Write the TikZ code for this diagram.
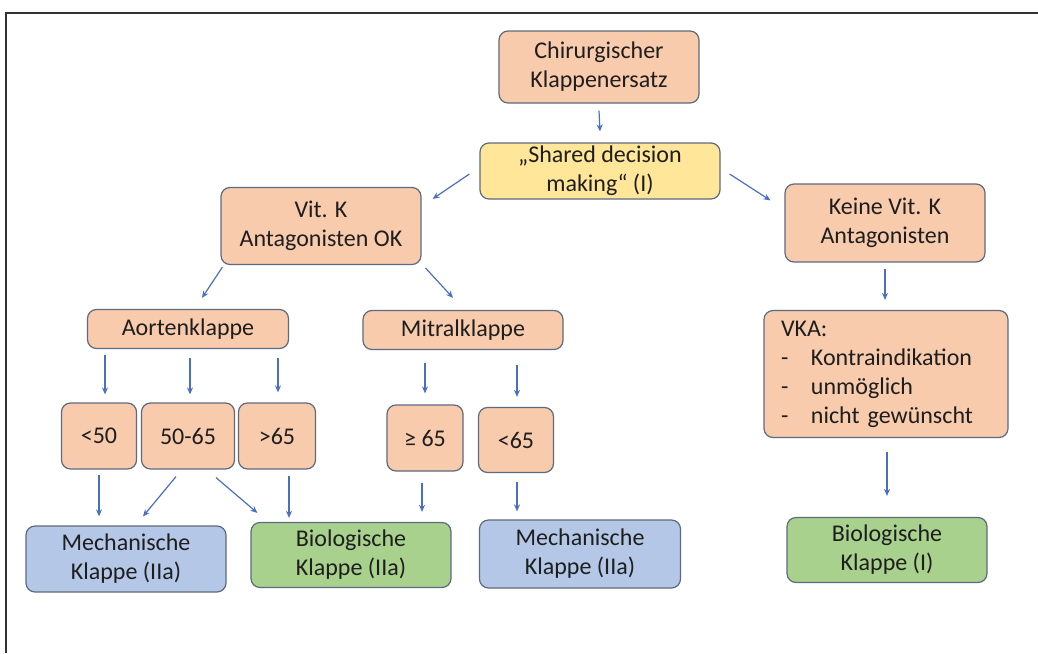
\documentclass[tikz,border=0pt]{standalone}
\usepackage{fontspec}
\setmainfont{Carlito}
\usepackage{tikz}
\usetikzlibrary{calc}
\usetikzlibrary{arrows.meta}
\tikzset{>={Stealth[length=7pt,width=6pt]}}
\usepackage{xcolor}
\definecolor{peach}{HTML}{F8CBAD}
\definecolor{sand}{HTML}{FFE699}
\definecolor{sky}{HTML}{B4C7E7}
\definecolor{leaf}{HTML}{A9D18E}
\definecolor{edge}{HTML}{5E6A7E}
\definecolor{ink}{HTML}{1E1E1E}
\definecolor{arrblue}{HTML}{4A6FC0}
\tikzstyle{box}=[draw=edge,line width=1.2pt,rounded corners=9pt,align=center,text=ink,font=\fontsize{24}{29}\selectfont,inner sep=2pt]
\tikzstyle{arr}=[->,draw=arrblue,line width=1.2pt]

\begin{document}
\begin{tikzpicture}[x=1pt,y=-1pt]
\useasboundingbox (0,0) rectangle (1038,653);
\draw[line width=1.5pt,draw=black!80] (6,653) -- (6,13) -- (1038,13);

\node[box,fill=peach,minimum width=200pt,minimum height=72pt] (chir) at (599,67) {Chirurgischer\\Klappenersatz};
\node[box,fill=sand,minimum width=240pt,minimum height=56pt] (shared) at (600,171) {„Shared decision\\making“ (I)};

\node[box,fill=peach,minimum width=200pt,minimum height=77pt] (vitk) at (321,226) {Vit. K\\Antagonisten OK};
\node[box,fill=peach,minimum width=200pt,minimum height=78pt] (keine) at (885,223) {Keine Vit. K\\Antagonisten};

\node[box,fill=peach,minimum width=201pt,minimum height=39pt] (aorten) at (188,329) {Aortenklappe};
\node[box,fill=peach,minimum width=200pt,minimum height=39pt] (mitral) at (463,330) {Mitralklappe};
\node[box,fill=peach,align=left,text width=210pt,inner xsep=17pt,minimum height=127pt] (vka) at (886,374)
  {VKA:\\\makebox[30pt][l]{-}Kontraindikation\\\makebox[30pt][l]{-}unmöglich\\\makebox[30pt][l]{-}nicht gewünscht};

\node[box,fill=peach,minimum width=75pt,minimum height=66pt] (lt50) at (99,436) {<50};
\node[box,fill=peach,minimum width=93pt,minimum height=66pt] (mid) at (188,436) {50-65};
\node[box,fill=peach,minimum width=77pt,minimum height=66pt] (gt65) at (277,436) {>65};
\node[box,fill=peach,minimum width=76pt,minimum height=66pt] (ge65) at (425,438) {≥ 65};
\node[box,fill=peach,minimum width=75pt,minimum height=65pt] (lt65) at (516,440) {<65};

\node[box,fill=sky,minimum width=200pt,minimum height=66pt] (mech1) at (126,559) {Mechanische\\Klappe (IIa)};
\node[box,fill=leaf,minimum width=200pt,minimum height=65pt] (bio) at (351,555) {Biologische\\Klappe (IIa)};
\node[box,fill=sky,minimum width=201pt,minimum height=68pt] (mech2) at (580,554) {Mechanische\\Klappe (IIa)};
\node[box,fill=leaf,minimum width=200pt,minimum height=65pt] (bioI) at (887,550) {Biologische\\Klappe (I)};

\draw[arr] ($(chir.south)+(0,7)$) -- ($(shared.north)+(0,-11)$);
\draw[arr] ($(shared.west)+(-10,3)$) -- ($(vitk.north east)+(11,12)$);
\draw[arr] ($(shared.east)+(9,3)$) -- ($(keine.north west)+(-14,17)$);
\draw[arr] ($(vitk.south west)+(2,2)$) -- ($(aorten.north)+(14,-11)$);
\draw[arr] ($(vitk.south east)+(4,3)$) -- ($(mitral.north)+(-10,-12)$);
\draw[arr] ($(keine.south)+(0,6)$) -- ($(vka.north)+(-1,-10)$);

\draw[arr] ($(aorten.south -| lt50.north)+(6,6)$) -- ($(lt50.north)+(6,-8)$);
\draw[arr] ($(aorten.south -| mid.north)+(2,9)$) -- ($(mid.north)+(2,-8)$);
\draw[arr] ($(aorten.south -| gt65.north)+(1,9)$) -- ($(gt65.north)+(1,-10)$);
\draw[arr] ($(mitral.south -| ge65.north)+(0,13)$) -- ($(ge65.north)+(0,-11)$);
\draw[arr] ($(mitral.south -| lt65.north)+(1,15)$) -- ($(lt65.north)+(1,-10)$);

\draw[arr] ($(lt50.south)+(0,5)$) -- ($(lt50.south |- mech1.north)+(0,-9)$);
\draw[arr] ($(mid.south)+(-12,7)$) -- ($(mech1.north)+(17,-9)$);
\draw[arr] ($(mid.south)+(28,8)$) -- ($(bio.north west)+(7,-9)$);
\draw[arr] ($(gt65.south)+(12,6)$) -- ($(gt65.south |- bio.north)+(12,-4)$);
\draw[arr] ($(ge65.south)+(-3,11)$) -- ($(ge65.south |- bio.north)+(-3,-10)$);
\draw[arr] ($(lt65.south)+(1,9)$) -- ($(lt65.south |- mech2.north)+(1,-8)$);
\draw[arr] ($(vka.south)+(1,14)$) -- ($(vka.south |- bioI.north)+(1,-21)$);
\end{tikzpicture}
\end{document}
